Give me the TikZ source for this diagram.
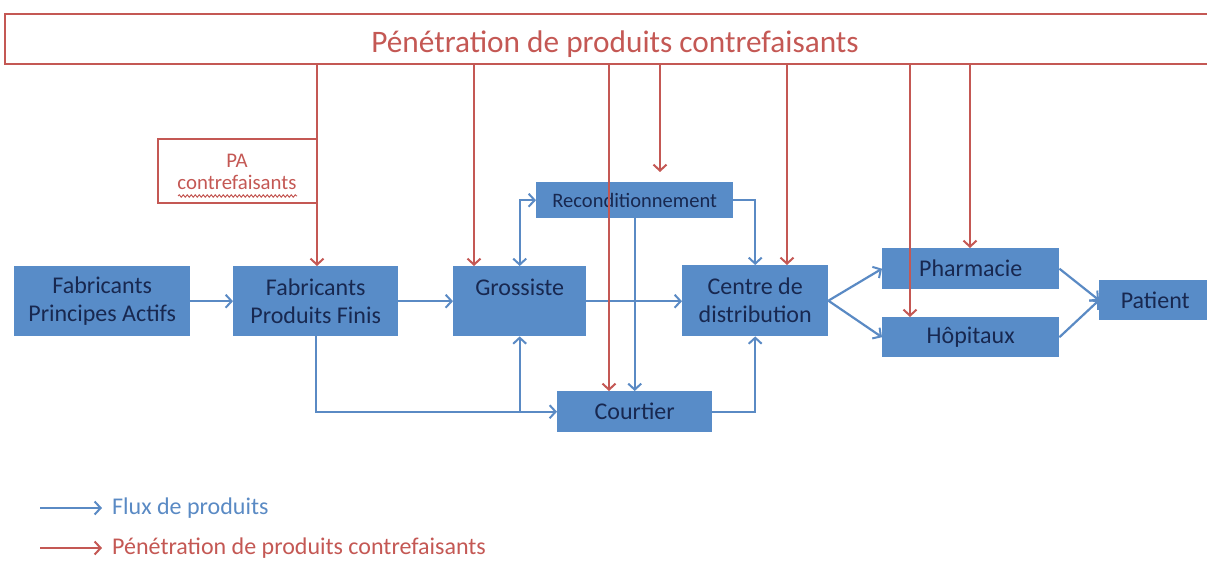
\documentclass[tikz,border=0pt]{standalone}
\usepackage{fontspec}
\setmainfont{Carlito}
\usetikzlibrary{arrows.meta,decorations.pathmorphing}
\definecolor{boxblue}{RGB}{88,140,200}
\definecolor{navy}{RGB}{24,40,80}
\definecolor{flow}{RGB}{90,138,196}
\definecolor{cred}{RGB}{196,88,84}
\tikzset{
  box/.style={fill=boxblue, draw=none, text=navy, align=center, inner sep=0pt,
    anchor=north west, font=\fontsize{24}{28}\selectfont},
  tip/.style={-{Straight Barb[length=6pt,width=13pt,line width=2pt]}},
  bluearrow/.style={draw=flow, line width=2.2pt, tip},
  redarrow/.style={draw=cred, line width=2pt, tip},
}
\begin{document}
\begin{tikzpicture}[x=1pt,y=-1pt]
\useasboundingbox (0,0) rectangle (1207,561);

% top banner
\draw[cred, line width=2.5pt] (1215,14) -- (5,14) -- (5,64) -- (1215,64);
\node[text=cred, font=\fontsize{31.3}{35}\selectfont] (top) at (615,44) {Pénétration de produits contrefaisants};

% PA contrefaisants box
\draw[cred, line width=1.8pt] (317,139) -- (158,139) -- (158,203) -- (317,203);
\node[text=cred, font=\fontsize{20.8}{22}\selectfont, align=center] (pa) at (237,172) {PA\\contrefaisants};
\draw[cred, line width=1pt, decorate, decoration={snake, amplitude=1.2pt, segment length=4pt}] (178,196) -- (297,196);

% boxes
\node[box, minimum width=176pt, minimum height=70pt] (fpa) at (14,266) {Fabricants\\Principes Actifs};
\node[box, minimum width=165pt, minimum height=70pt] (fpf) at (233,266) {Fabricants\\Produits Finis};
\node[box, minimum width=133pt, minimum height=70pt] (gro) at (453,266) {Grossiste\\\mbox{}};
\node[box, minimum width=197pt, minimum height=36pt, font=\fontsize{20.5}{24}\selectfont] (rec) at (536,182) {Reconditionnement};
\node[box, minimum width=146pt, minimum height=71pt] (cen) at (682,265) {Centre de\\distribution};
\node[box, minimum width=155pt, minimum height=41pt] (cou) at (557,391) {Courtier};
\node[box, minimum width=177pt, minimum height=41pt] (pha) at (882,248) {Pharmacie};
\node[box, minimum width=177pt, minimum height=40pt] (hop) at (882,317) {Hôpitaux};
\node[box, minimum width=112pt, minimum height=40pt] (pat) at (1099,280) {Patient};

% blue flows
\draw[bluearrow] (fpa.east) -- (fpf.west);
\draw[bluearrow] (fpf.east) -- (gro.west);
\draw[bluearrow] (gro.east) -- (gro.east -| cen.west);
\draw[draw=flow, line width=2.2pt, {Straight Barb[length=6pt,width=13pt,line width=2pt]}-{Straight Barb[length=6pt,width=13pt,line width=2pt]}] (gro.north) |- (rec.west);
\draw[bluearrow] (rec.east) -| (cen.north);
\draw[bluearrow] (rec.south) -- (cou.north);
\draw[bluearrow] (fpf.south) |- (cou.west);
\coordinate (j) at (gro.south |- cou.west);
\draw[bluearrow] (j) -- (gro.south);
\draw[bluearrow] (cou.east) -| (cen.south);
\draw[bluearrow] (cen.east) -- (pha.west);
\draw[bluearrow] (cen.east) -- (hop.west);
\draw[bluearrow] (pha.east) -- (pat.west);
\draw[bluearrow] (hop.east) -- (pat.west);

% red penetration
\coordinate (r1) at (317,64);
\coordinate (r2) at (474,64);
\coordinate (r3) at (609,64);
\coordinate (r4) at (660,64);
\coordinate (r5) at (787,64);
\coordinate (r6) at (910,64);
\coordinate (r7) at (970,64);
\coordinate (r4end) at (660,172);
\draw[redarrow] (r1) -- (r1 |- fpf.north);
\draw[redarrow] (r2) -- (r2 |- gro.north);
\draw[redarrow] (r3) -- (r3 |- cou.north);
\draw[redarrow] (r4) -- (r4end);
\draw[redarrow] (r5) -- (r5 |- cen.north);
\draw[redarrow] (r6) -- (r6 |- hop.north);
\draw[redarrow] (r7) -- (r7 |- pha.north);

% legend
\coordinate (l1a) at (40,508);
\coordinate (l1b) at (102,508);
\coordinate (l2a) at (40,548);
\coordinate (l2b) at (102,548);
\draw[bluearrow] (l1a) -- (l1b);
\draw[redarrow] (l2a) -- (l2b);
\node[anchor=west, text=flow, font=\fontsize{24}{26}\selectfont, inner sep=0pt] (lg1) at (112,508) {Flux de produits};
\node[anchor=west, text=cred, font=\fontsize{24}{26}\selectfont, inner sep=0pt] (lg2) at (112,548) {Pénétration de produits contrefaisants};
\end{tikzpicture}
\end{document}
